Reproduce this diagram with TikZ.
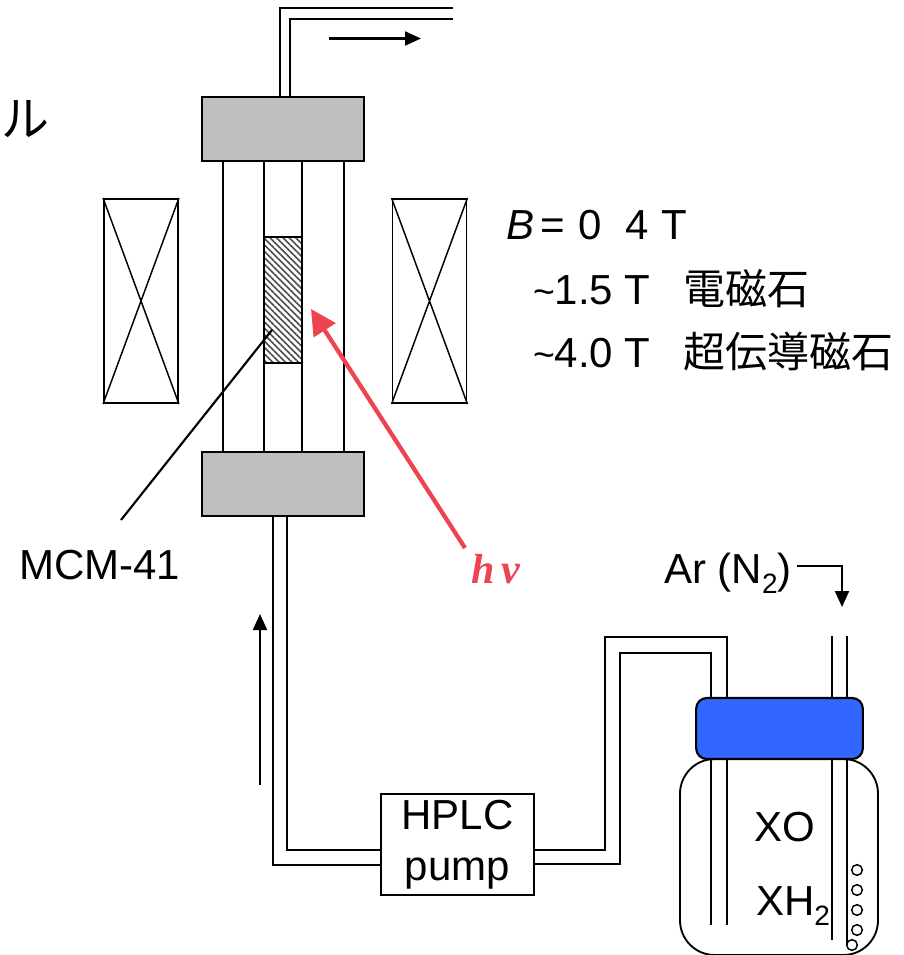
\documentclass[tikz,border=0pt]{standalone}
\usepackage{fontspec}
\setmainfont{Liberation Sans}
\newfontfamily\cjk{Noto Sans CJK JP}
\newfontfamily\hvfont{Liberation Serif}
\usetikzlibrary{arrows.meta,patterns.meta}
\definecolor{blockgray}{HTML}{BFBFBF}
\definecolor{capblue}{HTML}{3366FF}
\definecolor{hvred}{HTML}{EE4450}
\tikzset{
  x=0.75pt,y=-0.75pt,
  every path/.style={line width=1.6pt,black},
  block/.style={draw,fill=blockgray,minimum width=121.5pt,minimum height=48pt,inner sep=0pt,line width=1.6pt},
  magnet/.style={draw,minimum width=55.5pt,minimum height=153pt,inner sep=0pt,line width=1.4pt},
  lbl/.style={inner sep=0pt,anchor=base west,font=\fontsize{31.5}{36}\selectfont},
  flow/.style={line width=1.6pt,-{Triangle[length=12pt,width=10.5pt]}},
  bubble/.style={draw,circle,minimum size=8pt,inner sep=0pt,line width=1.1pt},
}
\begin{document}
\begin{tikzpicture}
\useasboundingbox (0,0) rectangle (903,955);
\fill[white] (0,0) rectangle (903,955);
% cell blocks
\node[block] (top) at (283,129) {};
\node[block] (bot) at (283,484) {};
% columns
\foreach \cx in {223,264,302,344}{\draw[line width=1.4pt] (top.south -| \cx,0) -- (bot.north -| \cx,0);}
% sample
\node[draw,minimum width=28.5pt,minimum height=94.5pt,inner sep=0pt,line width=1.6pt,
  pattern={Lines[angle=-45,distance=3.4pt,line width=1.2pt]},pattern color=black!70] (sample) at (283,300) {};
% magnets
\node[magnet] (ml) at (141,301) {};
\node[magnet] (mr) at (429.5,301) {};
\draw[line width=1.1pt] (ml.north west) -- (ml.south east) (ml.north east) -- (ml.south west);
\draw[line width=1.1pt] (mr.north west) -- (mr.south east) (mr.north east) -- (mr.south west);
% outlet tube
\coordinate (outA) at (453,8);
\coordinate (outB) at (453,19);
\draw (top.north -| 280,0) |- (outA);
\draw (top.north -| 290,0) |- (outB);
\coordinate (fa) at (329,38.5);
\coordinate (fb) at (421,38.5);
\draw[flow] (fa) -- (fb);
% pump
\node[draw,minimum width=115pt,minimum height=75.75pt,inner sep=0pt,align=center,
  font=\fontsize{31.5}{38.25}\selectfont,line width=1.4pt] (pump) at (457.5,844.5) {\raisebox{-3pt}{HPLC}\\\raisebox{-3pt}{pump}};
% bottle
\draw[line width=1.4pt,rounded corners=26pt] (680,759) rectangle (878,955);
\node[draw,fill=capblue,rounded corners=8pt,minimum width=125pt,minimum height=45.75pt,inner sep=0pt,line width=1.6pt] (cap) at (779.5,728.5) {};
% inlet to cell
\draw (bot.south -| 273,0) |- (pump.west |- 0,865);
\draw (bot.south -| 287,0) |- (pump.west |- 0,850);
% pump to bottle
\draw (pump.east |- 0,850) -| (605,637) -| (cap.north -| 727,0);
\draw (pump.east |- 0,864) -| (620,653) -| (cap.north -| 711,0);
% tubes in bottle
\draw (cap.south -| 711,0) -- (711,925);
\draw (cap.south -| 727,0) -- (727,925);
\draw (cap.south -| 832,0) -- (832,940);
\draw (cap.south -| 847,0) -- (847,945);
% Ar tube
\draw (cap.north -| 832,0) -- (832,636);
\draw (cap.north -| 847,0) -- (847,636);
% bubbles
\foreach \n/\bx/\by in {a/857/870,b/857/890,c/857/910,d/857/930,e/852/945}{\node[bubble] (b\n) at (\bx,\by) {};}
% flow arrow
\coordinate (ua) at (260,785);
\coordinate (ub) at (260,614);
\draw[flow] (ua) -- (ub);
% labels
\node[lbl] (ru) at (0,137) {\fontsize{36}{40}\selectfont\cjk ル};
\node[lbl] (bl) at (505,240) {\textit{B}\hspace{0.16em}=\hspace{0.14em}\,0\hspace{0.58em}4\hspace{0.3em}T};
\node[lbl] (l1) at (532,304) {\fontsize{28}{32}\selectfont\textasciitilde\fontsize{31.5}{36}\selectfont 1.5 T};
\node[lbl] (j1) at (682,304) {\cjk 電磁石};
\node[lbl] (l2) at (532,367) {\fontsize{28}{32}\selectfont\textasciitilde\fontsize{31.5}{36}\selectfont 4.0 T};
\node[lbl] (j2) at (682,367) {\cjk 超伝導磁石};
\node[lbl] (mcm) at (18,579) {MCM-41};
\node[lbl] (hv) at (470,583) {\hvfont\color{hvred}\bfseries\itshape h\,ν};
\node[lbl] (ar) at (663,583) {Ar (N\raisebox{-7.5pt}{\fontsize{21}{24}\selectfont 2})};
\node[lbl] (xo) at (753,841) {XO};
\node[lbl] (xh) at (755,915) {XH\raisebox{-7.5pt}{\fontsize{21}{24}\selectfont 2}};
% Ar arrow
\coordinate (aa) at (797,566);
\coordinate (ab) at (842,607);
\draw[flow] (aa) -| (ab);
% MCM line
\coordinate (mc) at (121,520);
\coordinate (ms) at (272,330);
\draw (mc) -- (ms);
% hv arrow
\coordinate (ha) at (465,548);
\coordinate (hb) at (311,309);
\draw[hvred,line width=3.2pt,-{Triangle[length=19pt,width=19pt]}] (ha) -- (hb);
\end{tikzpicture}
\end{document}
